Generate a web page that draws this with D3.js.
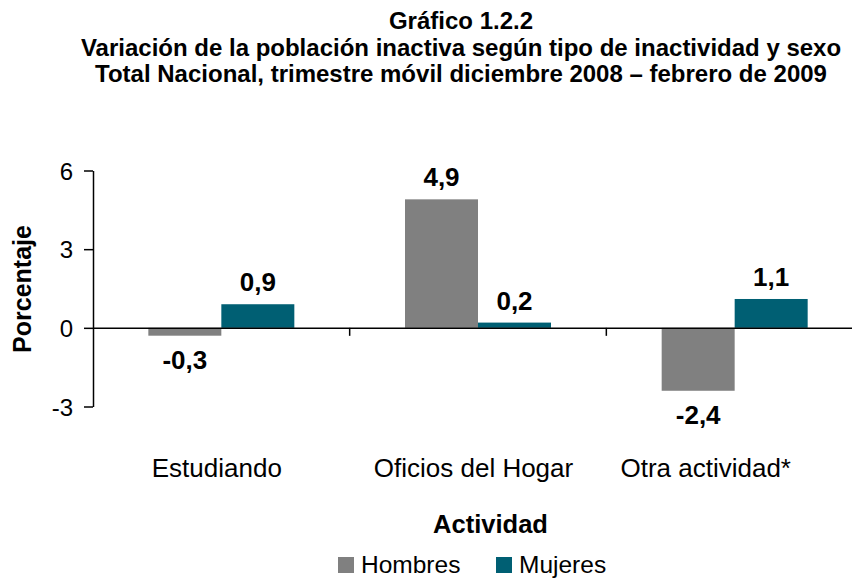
<!DOCTYPE html>
<html>
<head>
<meta charset="utf-8">
<script src="https://d3js.org/d3.v7.min.js"></script>
<style>
  body { margin: 0; background: #fff; }
  text { font-family: "Liberation Sans", Arial, sans-serif; }
</style>
</head>
<body>
<script>
  // datos del gráfico
  const categorias = ["Estudiando", "Oficios del Hogar", "Otra actividad*"];
  const series = ["Hombres", "Mujeres"];
  const hombres = [-0.3, 4.9, -2.4];
  const mujeres = [0.9, 0.2, 1.1];
  const etiquetasY = [-3, 0, 3, 6];
  const colores = ["#808080", "#005F73"];
  const titulo = [
    "Gráfico 1.2.2",
    "Variación de la población inactiva según tipo de inactividad y sexo",
    "Total Nacional, trimestre móvil diciembre 2008 – febrero de 2009"
  ];

  const width = 852, height = 578;
  const fmt = v => d3.format(".1f")(v).replace("−", "-").replace(".", ",");

  let svg = d3.select("body").append("svg")
    .attr("width", width)
    .attr("height", height);

  // titulo
  svg.selectAll("text.titulo")
    .data(titulo)
    .enter()
    .append("text")
      .attr("x", 461)
      .attr("y", (d, i) => 29 + i * 26.5)
      .attr("text-anchor", "middle")
      .style("font-size", "24px")
      .style("font-weight", "bold")
      .text(d => d);

  // escalas
  let x = d3.scaleBand()
    .domain(categorias)
    .range([93, 863]);

  let xs = d3.scaleBand()
    .domain(series)
    .range([0, 146]);

  let y = d3.scaleLinear()
    .domain([-3, 6])
    .range([406.5, 170.5]);

  // eje y
  let yAxis = svg.append("g")
    .attr("transform", "translate(93,0)")
    .call(d3.axisLeft(y).tickValues(etiquetasY).tickSize(9).tickSizeOuter(0)
      .tickFormat(d => String(d).replace("−", "-")));
  yAxis.select(".domain").attr("stroke", "#000").attr("stroke-width", 1.5);
  yAxis.selectAll(".tick line").attr("stroke", "#000").attr("stroke-width", 1.5);
  yAxis.selectAll(".tick text")
    .attr("x", -20)
    .attr("dy", "0.36em")
    .style("font-size", "24px")
    .style("font-family", "Liberation Sans, Arial, sans-serif")
    .attr("fill", "#000");

  svg.append("text")
    .attr("transform", "translate(31,289) rotate(-90)")
    .attr("text-anchor", "middle")
    .style("font-size", "25px")
    .style("font-weight", "bold")
    .text("Porcentaje");

  // barras
  let grupos = svg.selectAll("g.cat")
    .data(categorias)
    .enter()
    .append("g")
      .attr("class", "cat")
      .attr("transform", d => "translate(" + (x(d) + (x.bandwidth() - 146) / 2) + ",0)");

  const filas = (d, i) => [
    { s: "Hombres", v: hombres[i] },
    { s: "Mujeres", v: mujeres[i] }
  ];

  grupos.selectAll("rect")
    .data(filas)
    .enter()
    .append("rect")
      .attr("x", d => xs(d.s))
      .attr("width", xs.bandwidth())
      .attr("y", d => y(Math.max(0, d.v)))
      .attr("height", d => Math.abs(y(d.v) - y(0)))
      .attr("fill", (d, j) => colores[j]);

  grupos.selectAll("text.valor")
    .data(filas)
    .enter()
    .append("text")
      .attr("class", "valor")
      .attr("x", d => xs(d.s) + xs.bandwidth() / 2)
      .attr("y", d => d.v >= 0 ? y(d.v) - 13 : y(d.v) + 33)
      .attr("text-anchor", "middle")
      .style("font-size", "26px")
      .style("font-weight", "bold")
      .text(d => fmt(d.v));

  // eje x en cero
  let xAxis = svg.append("g")
    .attr("transform", "translate(0," + y(0) + ")")
    .call(d3.axisBottom(x).tickSize(0).tickSizeOuter(0).tickFormat(""));
  xAxis.select(".domain").attr("stroke", "#000").attr("stroke-width", 1.5);

  // marcas entre categorias
  svg.selectAll("line.sep")
    .data(categorias.slice(1))
    .enter()
    .append("line")
      .attr("x1", d => x(d))
      .attr("x2", d => x(d))
      .attr("y1", y(0))
      .attr("y2", y(0) + 8)
      .attr("stroke", "#000")
      .attr("stroke-width", 1.5);

  // etiquetas de categoria (la ultima se ajusta dentro del area del grafico, como en Excel)
  svg.selectAll("text.cat")
    .data(categorias)
    .enter()
    .append("text")
      .attr("class", "cat")
      .attr("y", 477)
      .attr("text-anchor", "middle")
      .style("font-size", "26px")
      .text(d => d)
      .attr("x", function (d) {
        let c = x(d) + x.bandwidth() / 2 - 4.5;
        let w = this.getComputedTextLength();
        return Math.min(c, 791 - w / 2);
      });

  svg.append("text")
    .attr("x", 490.5)
    .attr("y", 533)
    .attr("text-anchor", "middle")
    .style("font-size", "25.5px")
    .style("font-weight", "bold")
    .text("Actividad");

  // leyenda
  let leyX = [338, 496];
  let ley = svg.selectAll("g.ley")
    .data(series)
    .enter()
    .append("g")
      .attr("transform", (d, i) => "translate(" + leyX[i] + ",557)");
  ley.append("rect")
    .attr("width", 16)
    .attr("height", 16)
    .attr("fill", (d, i) => colores[i]);
  ley.append("text")
    .attr("x", 23)
    .attr("y", 16)
    .style("font-size", "24.5px")
    .text(d => d);
</script>
</body>
</html>
